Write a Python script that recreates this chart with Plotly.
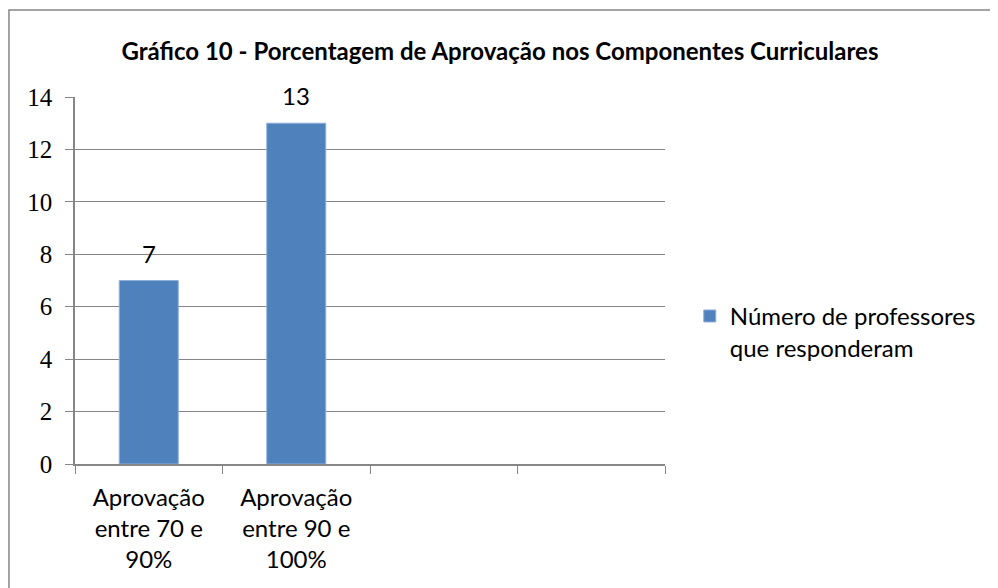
import plotly.graph_objects as go

# dados do gráfico
categorias = ["Aprovação<br>entre 70 e<br>90%", "Aprovação<br>entre 90 e<br>100%", " ", "  "]
professores = [7, 13, None, None]
serie_nome = "Número de professores<br>que responderam"
titulo = "Gráfico 10 - Porcentagem de Aprovação nos Componentes Curriculares"
y_ticks = [0, 2, 4, 6, 8, 10, 12, 14]

AZUL = "#4F81BD"
CINZA = "#868686"
FONTE = "Lato, 'Open Sans', sans-serif"

fig = go.Figure()

fig.add_trace(go.Bar(
    x=categorias,
    y=professores,
    name=serie_nome,
    width=0.4,
    marker=dict(color=AZUL, line=dict(color="#8FAFDA", width=1)),
    showlegend=True,
))

# rótulos de dados acima das barras
for cat, val in zip(categorias, professores):
    if val is None:
        continue
    fig.add_annotation(
        x=cat, y=val, text=str(val), showarrow=False,
        yanchor="bottom", yshift=11,
        font=dict(family=FONTE, size=24, color="black"),
    )

# borda externa do gráfico
fig.add_shape(
    type="rect", xref="paper", yref="paper",
    x0=-0.1119, x1=1.5627, y0=-0.37, y1=1.237,
    line=dict(color=CINZA, width=1.5), fillcolor="rgba(0,0,0,0)",
)

fig.update_layout(
    width=990, height=580,
    margin=dict(l=67, r=333, t=89, b=124),
    paper_bgcolor="white", plot_bgcolor="white",
    title=dict(
        text="<b>" + titulo + "</b>",
        x=0.497, xref="container", xanchor="center",
        y=0.924, yref="container", yanchor="middle",
        font=dict(family=FONTE, size=24, color="black"),
    ),
    showlegend=True,
    legend=dict(
        x=1.042, xanchor="left", y=0.36, yanchor="middle",
        valign="top", font=dict(family=FONTE, size=24, color="black"),
        itemwidth=30, bgcolor="rgba(0,0,0,0)",
    ),
    xaxis=dict(
        type="category", categoryorder="array", categoryarray=categorias,
        range=[-0.5, 3.5], tickson="boundaries", ticks="outside",
        ticklen=8, tickcolor=CINZA, showline=True, linecolor=CINZA,
        linewidth=1.5, showgrid=False, ticklabelstandoff=11,
        tickfont=dict(family=FONTE, size=24, color="black"),
    ),
    yaxis=dict(
        range=[0, 14], tickvals=y_ticks, ticks="outside", ticklen=8,
        tickcolor=CINZA, showline=True, linecolor=CINZA, linewidth=1.5,
        showgrid=True, gridcolor=CINZA, gridwidth=1.2, zeroline=False,
        ticklabelstandoff=8,
        tickfont=dict(family="'Liberation Serif', serif", size=25, color="black"),
    ),
    bargap=0.6,
)

fig.write_html("out.html")
